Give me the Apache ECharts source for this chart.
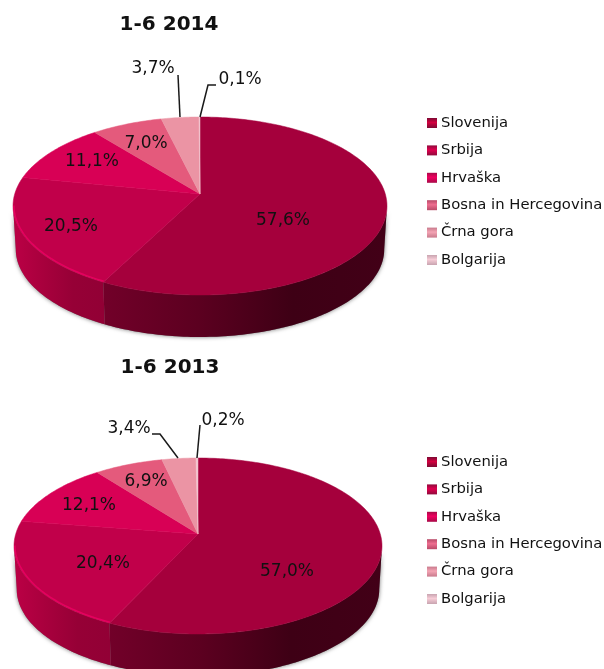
<!DOCTYPE html>
<html>
<head>
<meta charset="utf-8">
<title>1-6 2014 / 1-6 2013</title>
<style>
html,body{margin:0;padding:0;background:#fff}
#chart{width:604px;height:669px}
</style>
<script src="https://cdn.jsdelivr.net/npm/echarts@6/dist/echarts.min.js"></script>
</head>
<body>
<div id="chart"></div>
<script>
var categories = ['Slovenija', 'Srbija', 'Hrvaška', 'Bosna in Hercegovina', 'Črna gora', 'Bolgarija']
var titles = ['1-6 2014', '1-6 2013']
var values2014 = [57.6, 20.5, 11.1, 7.0, 3.7, 0.1]
var values2013 = [57.0, 20.4, 12.1, 6.9, 3.4, 0.2]

var FONT = '"DejaVu Sans", sans-serif'
var topColors = ['#a5003c', '#c1004a', '#d80055', '#e45a7c', '#eb94a4', '#f2c4cf']
// side wall colours, left to right
var wallColors = [
  ['#720029', '#5c0020', '#3e0015', '#420017'],
  ['#bb0045', '#a8003d', '#960036', '#920035']
]
var rimColors = [null, '#e6005f']
// swatch colours, top to bottom
var legendColors = [
  ['#d3003f', '#7c0a33'], ['#e0004f', '#8f0a3c'], ['#ef0060', '#a80a48'],
  ['#ee6e90', '#b84a68'], ['#f4a4b4', '#c87a8c'], ['#f6ccd6', '#c8a4b0']
]

// layout of the two pies, label centres and leader lines are per slice
var pies = [{
  values: values2014, cx: 200, cy: 194, rx: 187, up: 77, down: 101, depth: 43.5,
  titleX: 169, titleY: 15, legendTop: 114,
  labels: [[283, 221], [71, 227], [92, 162], [146, 144], [153, 69], [240, 80]],
  leaders: {4: [[178, 75], [180, 117]], 5: [[216, 85], [208, 85], [200, 117]]}
}, {
  values: values2013, cx: 198, cy: 534, rx: 184, up: 76, down: 100, depth: 43.5,
  titleX: 170, titleY: 358, legendTop: 453,
  labels: [[287, 572], [103, 564], [89, 506], [146, 482], [129, 429], [223, 421]],
  leaders: {4: [[152, 434], [160, 434], [178, 458]], 5: [[200, 425], [197, 458]]}
}]

// perspective disc: angle is clockwise from the top, centre of the disc lands on (cx, cy)
function projector(p) {
  var k = (p.down - p.up) / (p.down + p.up)
  var a = p.up * (1 + k)
  var b = p.rx * Math.sqrt(1 - k * k)
  return function(deg, scale, dy) {
    var t = deg * Math.PI / 180
    var w = 1 + k * Math.cos(t)
    return [
      p.cx + scale * b * Math.sin(t) / w,
      p.cy + dy - scale * a * Math.cos(t) / w
    ]
  }
}

function arc(proj, from, to, scale, dy) {
  var pts = []
  var n = Math.max(1, Math.ceil(Math.abs(to - from)))
  for (var i = 0; i <= n; i++) {
    pts.push(proj(from + (to - from) * i / n, scale, dy))
  }
  return pts
}

var BOTTOM_SCALE = 0.985

function wallPoints(proj, from, to, depth) {
  return arc(proj, from, to, 1, 0).concat(arc(proj, to, from, BOTTOM_SCALE, depth))
}

function sliceSeries(p, idx) {
  var total = p.values.reduce(function(s, v) { return s + v }, 0)
  var proj = projector(p)
  var k = (p.down - p.up) / (p.down + p.up)
  var edge = Math.acos(-k) * 180 / Math.PI
  var start = p.values.slice(0, idx).reduce(function(s, v) { return s + v }, 0) / total * 360
  var end = start + p.values[idx] / total * 360
  var from = Math.max(start, edge)
  var to = Math.min(end, 360 - edge)

  return {
    type: 'custom',
    name: categories[idx],
    coordinateSystem: 'none',
    silent: true,
    data: [[p.values[idx]]],
    renderItem: function() {
      var children = []
      if (to > from) {
        var wall = wallColors[idx]
        var x0 = proj(from, 1, 0)[0]
        var x1 = proj(to, 1, 0)[0]
        children.push({
          type: 'polygon',
          z2: 1,
          shape: {points: wallPoints(proj, from, to, p.depth)},
          style: {
            fill: {
              type: 'linear', x: Math.min(x0, x1), y: 0, x2: Math.max(x0, x1), y2: 0, global: true,
              colorStops: wall.map(function(c, i) { return {offset: i / (wall.length - 1), color: c} })
            }
          }
        })
        if (rimColors[idx]) {
          children.push({
            type: 'polyline',
            z2: 3,
            shape: {points: arc(proj, from, to, 0.995, -0.5)},
            style: {stroke: rimColors[idx], lineWidth: 1.5, fill: null}
          })
        }
      }
      children.push({
        type: 'polygon',
        z2: 2,
        shape: {points: [[p.cx, p.cy]].concat(arc(proj, start, end, 1, 0))},
        style: {fill: topColors[idx], stroke: topColors[idx], lineWidth: 0.5}
      })
      children.push({
        type: 'text',
        z2: 5,
        style: {
          x: p.labels[idx][0],
          y: p.labels[idx][1],
          text: p.values[idx].toFixed(1).replace('.', ',') + '%',
          align: 'center',
          verticalAlign: 'middle',
          fill: '#111',
          font: '17px ' + FONT
        }
      })
      if (p.leaders[idx]) {
        children.push({
          type: 'polyline',
          z2: 4,
          shape: {points: p.leaders[idx]},
          style: {stroke: '#1a1a1a', lineWidth: 1.5, fill: null}
        })
      }
      return {type: 'group', children: children}
    }
  }
}

// soft shadow behind the side wall
function shadowSeries(p) {
  var proj = projector(p)
  return {
    type: 'custom',
    coordinateSystem: 'none',
    silent: true,
    data: [[0]],
    renderItem: function() {
      return {
        type: 'polygon',
        z2: 0,
        shape: {points: wallPoints(proj, 98, 262, p.depth)},
        style: {fill: '#777', shadowColor: 'rgba(0,0,0,0.55)', shadowBlur: 4}
      }
    }
  }
}

function legendFor(p) {
  return {
    left: 427,
    top: p.legendTop,
    padding: 0,
    orient: 'vertical',
    selectedMode: false,
    itemWidth: 10,
    itemHeight: 10,
    itemGap: 9.4,
    textStyle: {fontFamily: FONT, fontSize: 14.8, color: '#111', padding: [0, 0, 0, -1], lineHeight: 18},
    data: categories.map(function(name, i) {
      return {
        name: name,
        icon: 'rect',
        itemStyle: {
          color: {
            type: 'linear', x: 0, y: 0, x2: 0, y2: 1,
            colorStops: [{offset: 0, color: legendColors[i][1]}, {offset: 0.45, color: legendColors[i][0]}, {offset: 1, color: legendColors[i][1]}]
          },
          borderWidth: 0
        }
      }
    })
  }
}

var series = []
pies.forEach(function(p) {
  series.push(shadowSeries(p))
  categories.forEach(function(c, i) {
    series.push(sliceSeries(p, i))
  })
})

var chart = echarts.init(document.getElementById('chart'), null, {renderer: 'canvas'})
chart.setOption({
  animation: false,
  backgroundColor: '#fff',
  title: pies.map(function(p, i) {
    return {
      text: titles[i],
      left: p.titleX,
      top: p.titleY,
      textAlign: 'center',
      padding: 0,
      textStyle: {fontFamily: FONT, fontSize: 20, fontWeight: 'bold', color: '#111'}
    }
  }),
  legend: pies.map(legendFor),
  series: series
})
</script>
</body>
</html>
